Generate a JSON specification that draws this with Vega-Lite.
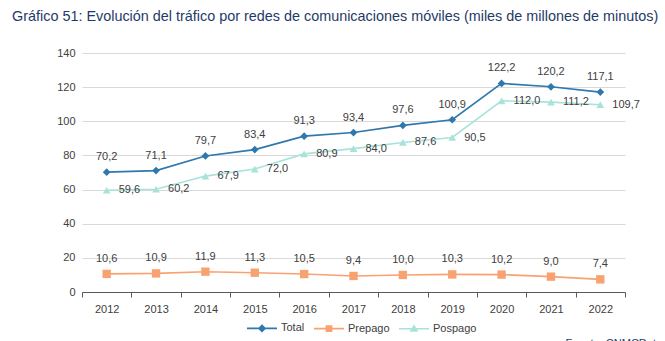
{
  "$schema": "https://vega.github.io/schema/vega-lite/v6.json",
  "width": 543,
  "height": 239,
  "autosize": "none",
  "padding": {"left": 82, "top": 53, "right": 40, "bottom": 49},
  "background": "white",
  "config": {
    "locale": {"number": {"decimal": ",", "thousands": ".", "grouping": [3], "currency": ["", " €"]}},
    "font": "Liberation Sans",
    "view": {"stroke": null}
  },
  "title": {
    "text": "Gráfico 51: Evolución del tráfico por redes de comunicaciones móviles (miles de millones de minutos)",
    "anchor": "start",
    "frame": "group",
    "dx": -70,
    "offset": 23,
    "fontSize": 14.4,
    "fontWeight": "normal",
    "color": "#1F3A68",
    "font": "Liberation Sans"
  },
  "data": {
    "values": [
      {"year": "2012", "serie": "Total", "value": 70.2},
      {"year": "2013", "serie": "Total", "value": 71.1},
      {"year": "2014", "serie": "Total", "value": 79.7},
      {"year": "2015", "serie": "Total", "value": 83.4},
      {"year": "2016", "serie": "Total", "value": 91.3},
      {"year": "2017", "serie": "Total", "value": 93.4},
      {"year": "2018", "serie": "Total", "value": 97.6},
      {"year": "2019", "serie": "Total", "value": 100.9},
      {"year": "2020", "serie": "Total", "value": 122.2},
      {"year": "2021", "serie": "Total", "value": 120.2},
      {"year": "2022", "serie": "Total", "value": 117.1},
      {"year": "2012", "serie": "Prepago", "value": 10.6},
      {"year": "2013", "serie": "Prepago", "value": 10.9},
      {"year": "2014", "serie": "Prepago", "value": 11.9},
      {"year": "2015", "serie": "Prepago", "value": 11.3},
      {"year": "2016", "serie": "Prepago", "value": 10.5},
      {"year": "2017", "serie": "Prepago", "value": 9.4},
      {"year": "2018", "serie": "Prepago", "value": 10.0},
      {"year": "2019", "serie": "Prepago", "value": 10.3},
      {"year": "2020", "serie": "Prepago", "value": 10.2},
      {"year": "2021", "serie": "Prepago", "value": 9.0},
      {"year": "2022", "serie": "Prepago", "value": 7.4},
      {"year": "2012", "serie": "Pospago", "value": 59.6},
      {"year": "2013", "serie": "Pospago", "value": 60.2},
      {"year": "2014", "serie": "Pospago", "value": 67.9},
      {"year": "2015", "serie": "Pospago", "value": 72.0},
      {"year": "2016", "serie": "Pospago", "value": 80.9},
      {"year": "2017", "serie": "Pospago", "value": 84.0},
      {"year": "2018", "serie": "Pospago", "value": 87.6},
      {"year": "2019", "serie": "Pospago", "value": 90.5},
      {"year": "2020", "serie": "Pospago", "value": 112.0},
      {"year": "2021", "serie": "Pospago", "value": 111.2},
      {"year": "2022", "serie": "Pospago", "value": 109.7}
    ]
  },
  "encoding": {
    "x": {
      "field": "year",
      "type": "ordinal",
      "scale": {"type": "band", "paddingInner": 0, "paddingOuter": 0},
      "axis": {
        "title": "Fuente: CNMCData",
        "titleX": 483,
        "titleY": 45,
        "titleAlign": "left",
        "titleBaseline": "top",
        "titleAnchor": null,
        "titleFontSize": 11,
        "titleFontWeight": "normal",
        "titleColor": "#1F3A68",
        "labelAngle": 0,
        "labelFontSize": 11,
        "labelColor": "#404040",
        "labelPadding": 6,
        "tickBand": "extent",
        "tickSize": 5,
        "tickColor": "#595959",
        "domainColor": "#595959",
        "grid": false
      }
    },
    "y": {
      "field": "value",
      "type": "quantitative",
      "scale": {"domain": [0, 140]},
      "axis": {
        "title": null,
        "values": [0, 20, 40, 60, 80, 100, 120, 140],
        "format": "d",
        "labelFontSize": 11,
        "labelColor": "#404040",
        "labelPadding": 7,
        "ticks": false,
        "domain": false,
        "gridColor": "#D9D9D9",
        "gridWidth": 1
      }
    },
    "color": {
      "field": "serie",
      "type": "nominal",
      "scale": {"domain": ["Total", "Prepago", "Pospago"], "range": ["#2F78AE", "#F9A271", "#A8E3DA"]}
    }
  },
  "layer": [
    {
      "mark": {"type": "line", "strokeWidth": 1.6},
      "encoding": {
        "color": {
          "field": "serie",
          "type": "nominal",
          "legend": {
            "title": null,
            "orient": "none",
            "direction": "horizontal",
            "legendX": 164,
            "legendY": 259,
            "labelFontSize": 11,
            "labelColor": "#404040",
            "symbolSize": 900,
            "labelOffset": 3,
            "columnPadding": 5,
            "encode": {
              "symbols": {
                "update": {
                  "shape": {"signal": "datum.value === 'Total' ? 'M-1,0H1M0,-0.2L0.2,0L0,0.2L-0.2,0Z' : datum.value === 'Prepago' ? 'M-1,0H1M-0.17,-0.17H0.17V0.17H-0.17Z' : 'M-1,0H1M0,-0.2L0.2,0.15H-0.2Z'"},
                  "fill": {"scale": "color", "field": "value"},
                  "stroke": {"scale": "color", "field": "value"},
                  "strokeWidth": {"value": 1.6},
                  "opacity": {"value": 1}
                }
              }
            }
          }
        }
      }
    },
    {
      "transform": [{"filter": "datum.serie === 'Total'"}],
      "mark": {"type": "point", "shape": "diamond", "filled": true, "opacity": 1, "size": 60},
      "encoding": {"color": {"field": "serie", "type": "nominal", "legend": null}}
    },
    {
      "transform": [{"filter": "datum.serie === 'Prepago'"}],
      "mark": {"type": "point", "shape": "square", "filled": true, "opacity": 1, "size": 70},
      "encoding": {"color": {"field": "serie", "type": "nominal", "legend": null}}
    },
    {
      "transform": [{"filter": "datum.serie === 'Pospago'"}],
      "mark": {"type": "point", "shape": "triangle-up", "filled": true, "opacity": 1, "size": 60},
      "encoding": {"color": {"field": "serie", "type": "nominal", "legend": null}}
    },
    {
      "transform": [{"filter": "datum.serie !== 'Pospago'"}],
      "mark": {"type": "text", "dy": -15, "baseline": "middle", "fontSize": 11},
      "encoding": {
        "text": {"field": "value", "type": "quantitative", "format": ".1f"},
        "color": {"value": "#404040"}
      }
    },
    {
      "transform": [{"filter": "datum.serie === 'Pospago'"}],
      "mark": {"type": "text", "dx": 12, "align": "left", "baseline": "middle", "fontSize": 11},
      "encoding": {
        "text": {"field": "value", "type": "quantitative", "format": ".1f"},
        "color": {"value": "#404040"}
      }
    }
  ]
}
